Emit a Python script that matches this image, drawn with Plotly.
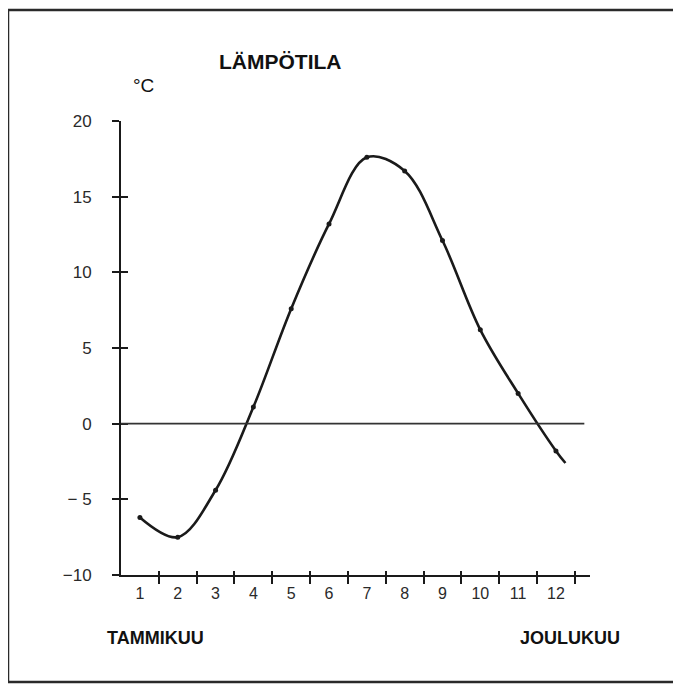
import plotly.graph_objects as go

# Data
months = [1, 2, 3, 4, 5, 6, 7, 8, 9, 10, 11, 12]
month_labels = ["1", "2", "3", "4", "5", "6", "7", "8", "9", "10", "11", "12"]
temperature = [-6.2, -7.5, -4.4, 1.1, 7.6, 13.2, 17.6, 16.7, 12.1, 6.2, 2.0, -1.8]
tail_x = [12.25]
tail_y = [-2.6]
y_ticks = [-10, -5, 0, 5, 10, 15, 20]
y_tick_text = ["\u221210", "\u2212 5", "0", "5", "10", "15", "20"]
month_bounds = [m + 0.5 for m in months]

FONT = "Liberation Sans, Arial, Helvetica, sans-serif"
INK = "#1a1a1a"
XR = [0.5, 12.9]
YR = [-10, 20]

# page has an 8px body margin; figure geometry compensates for it
OFF = 8
W, H = 681 - OFF, 688 - OFF
PL, PT, PW, PH = 121, 121, 469, 454   # plot area in page pixels

fig = go.Figure()

fig.add_trace(go.Scatter(
    x=months + tail_x, y=temperature + tail_y,
    mode="lines", line=dict(color=INK, width=2.6, shape="spline", smoothing=1.0),
    hoverinfo="skip", showlegend=False))
fig.add_trace(go.Scatter(
    x=months, y=temperature, mode="markers",
    marker=dict(color=INK, size=5), showlegend=False))

# dummy traces to realise overlay axes
for xa, ya in [("x2", "y"), ("x3", "y"), ("x", "y2")]:
    fig.add_trace(go.Scatter(x=[None], y=[None], xaxis=xa, yaxis=ya,
                             showlegend=False, hoverinfo="skip"))

fig.update_layout(
    width=W, height=H,
    margin=dict(l=PL - OFF, r=W - (PL - OFF) - PW, t=PT - OFF, b=H - (PT - OFF) - PH),
    paper_bgcolor="white", plot_bgcolor="white",
    font=dict(family=FONT, color="#2a2a2a", size=16),
    showlegend=False,
    xaxis=dict(range=XR, tickmode="array", tickvals=month_bounds, ticktext=[""] * 12,
               ticks="outside", ticklen=7, tickwidth=2, tickcolor=INK,
               showline=True, linecolor=INK, linewidth=2, showgrid=False,
               zeroline=False, fixedrange=True),
    xaxis2=dict(range=XR, overlaying="x", anchor="y", side="bottom",
                tickmode="array", tickvals=month_bounds, ticktext=[""] * 12,
                ticks="inside", ticklen=4, tickwidth=2, tickcolor=INK,
                showline=False, showgrid=False, zeroline=False),
    xaxis3=dict(range=XR, overlaying="x", anchor="y", side="bottom",
                tickmode="array", tickvals=months, ticktext=month_labels,
                ticks="", showline=False, showgrid=False, zeroline=False,
                ticklabelstandoff=7, tickfont=dict(size=16, family=FONT, color="#2a2a2a")),
    yaxis=dict(range=YR, tickmode="array", tickvals=y_ticks, ticktext=y_tick_text,
               ticks="outside", ticklen=7, tickwidth=2, tickcolor=INK,
               ticklabelstandoff=17,
               showline=True, linecolor=INK, linewidth=2, showgrid=False,
               zeroline=False, tickfont=dict(size=17, family=FONT, color="#2a2a2a")),
    yaxis2=dict(range=YR, overlaying="y", anchor="x", side="left",
                tickmode="array", tickvals=y_ticks, ticktext=[""] * 7,
                ticks="inside", ticklen=7, tickwidth=2, tickcolor=INK,
                showline=False, showgrid=False, zeroline=False),
)

def pxx(px):
    return (px - PL) / PW

def pxy(py):
    return (PT + PH - py) / PH

# zero line
fig.add_shape(type="line", xref="x", yref="y", x0=XR[0], x1=12.75, y0=0, y1=0,
              line=dict(color="#333333", width=1.6))

# outer frame
fig.add_shape(type="rect", xref="paper", yref="paper",
              x0=pxx(8), x1=pxx(677), y0=pxy(682), y1=pxy(10),
              line=dict(color="#2a2a2a", width=2.5))

def px_annot(text, px, py, size, bold=False):
    fig.add_annotation(
        text=f"<b>{text}</b>" if bold else text,
        xref="paper", yref="paper", x=pxx(px), y=pxy(py),
        xanchor="center", yanchor="middle", showarrow=False,
        font=dict(family=FONT, size=size, color="#111111"))

px_annot("LÄMPÖTILA", 280, 61, 21, bold=True)
px_annot("°C", 143, 86, 19)
px_annot("TAMMIKUU", 155, 638, 18, bold=True)
px_annot("JOULUKUU", 570, 638, 18, bold=True)

fig.write_html(
    "out.html",
    post_script="document.documentElement.style.overflow='hidden';"
                "document.body.style.overflow='hidden';")
